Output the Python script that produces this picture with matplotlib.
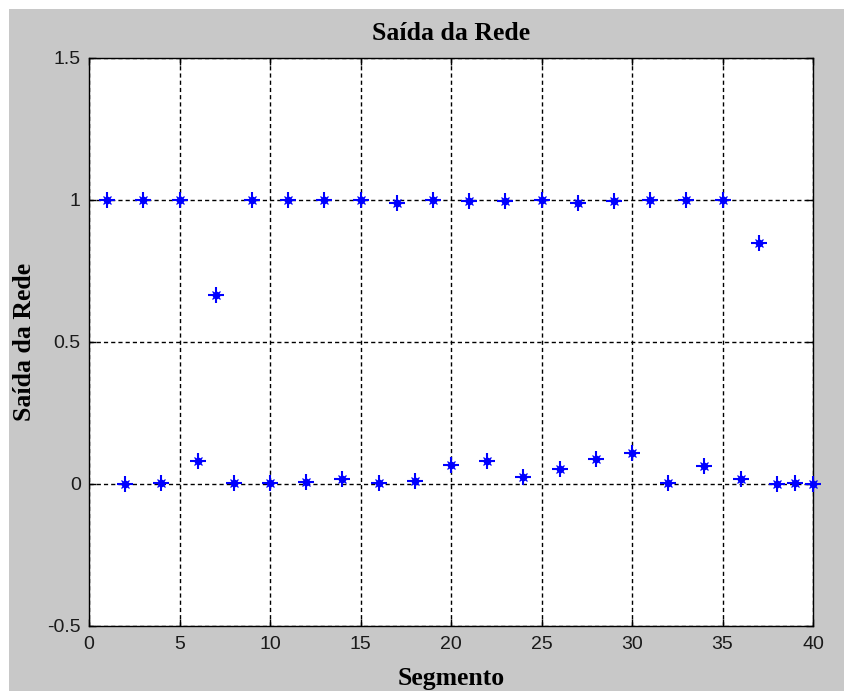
import numpy as np
import matplotlib.pyplot as plt
from matplotlib.patches import Rectangle

# network output per segment
segmento = list(range(1, 41))
saida = [1.000, 0.000, 1.000, 0.004, 1.000, 0.081, 0.665, 0.005, 1.000, 0.004,
         1.000, 0.008, 1.000, 0.016, 1.000, 0.002, 0.988, 0.010, 1.000, 0.067,
         0.995, 0.081, 0.997, 0.026, 1.000, 0.052, 0.988, 0.087, 0.995, 0.110,
         1.000, 0.002, 1.000, 0.063, 1.000, 0.016, 0.847, 0.000, 0.005, 0.000]

xticks = [0, 5, 10, 15, 20, 25, 30, 35, 40]
yticks = [-0.5, 0, 0.5, 1, 1.5]
ytick_labels = ['-0.5', '0', '0.5', '1', '1.5']

W, H = 844, 691
fig = plt.figure(figsize=(W / 100, H / 100), dpi=100, facecolor='#c8c8c8')
# thin white edge on top and left like the screenshot
fig.patches.append(Rectangle((0, 1 - 9 / H), 1, 9 / H, transform=fig.transFigure,
                             facecolor='white', edgecolor='none'))
fig.patches.append(Rectangle((0, 0), 9 / W, 1, transform=fig.transFigure,
                             facecolor='white', edgecolor='none'))

ax = fig.add_axes([89 / W, 65 / H, 724 / W, 568 / H])
ax.set_facecolor('white')

# matlab '*' marker: plus + small cross + center dot
ax.plot(segmento, saida, linestyle='none', marker='+', color='#0000ff',
        markersize=11, markeredgewidth=1.5, zorder=3, clip_on=False)
ax.plot(segmento, saida, linestyle='none', marker='x', color='#0000ff',
        markersize=5.5, markeredgewidth=0.9, zorder=3, clip_on=False)
ax.plot(segmento, saida, linestyle='none', marker='o', color='#0000ff',
        markersize=4.5, zorder=3, clip_on=False)

ax.set_xlim(0, 40)
ax.set_ylim(-0.5, 1.5)
ax.set_xticks(xticks)
ax.set_yticks(yticks)
ax.set_yticklabels(ytick_labels)
ax.tick_params(direction='in', top=True, right=True, length=5, width=1,
               labelsize=14, labelcolor='#1a1a1a')
ax.tick_params(axis='x', pad=7)
ax.tick_params(axis='y', pad=6)
for lab in ax.get_xticklabels() + ax.get_yticklabels():
    lab.set_family('Liberation Sans')

ax.grid(True, color='black', linestyle=(0, (3, 2.2)), linewidth=1)
ax.set_axisbelow(True)
for s in ax.spines.values():
    s.set_linewidth(1)

serif = {'family': 'Liberation Serif', 'weight': 'bold', 'size': 18.5}
ax.set_title('Saída da Rede', fontdict=serif, y=1 + 24 / 568, va='center', pad=0)
ax.set_xlabel('Segmento', fontdict=serif)
ax.set_ylabel('Saída da Rede', fontdict=serif)
ax.xaxis.set_label_coords(0.5, -52 / 568)
ax.yaxis.set_label_coords(-64 / 724, 0.5)
ax.xaxis.label.set_va('center')
ax.yaxis.label.set_va('center')

plt.savefig('out.png', dpi=100, facecolor=fig.get_facecolor())
